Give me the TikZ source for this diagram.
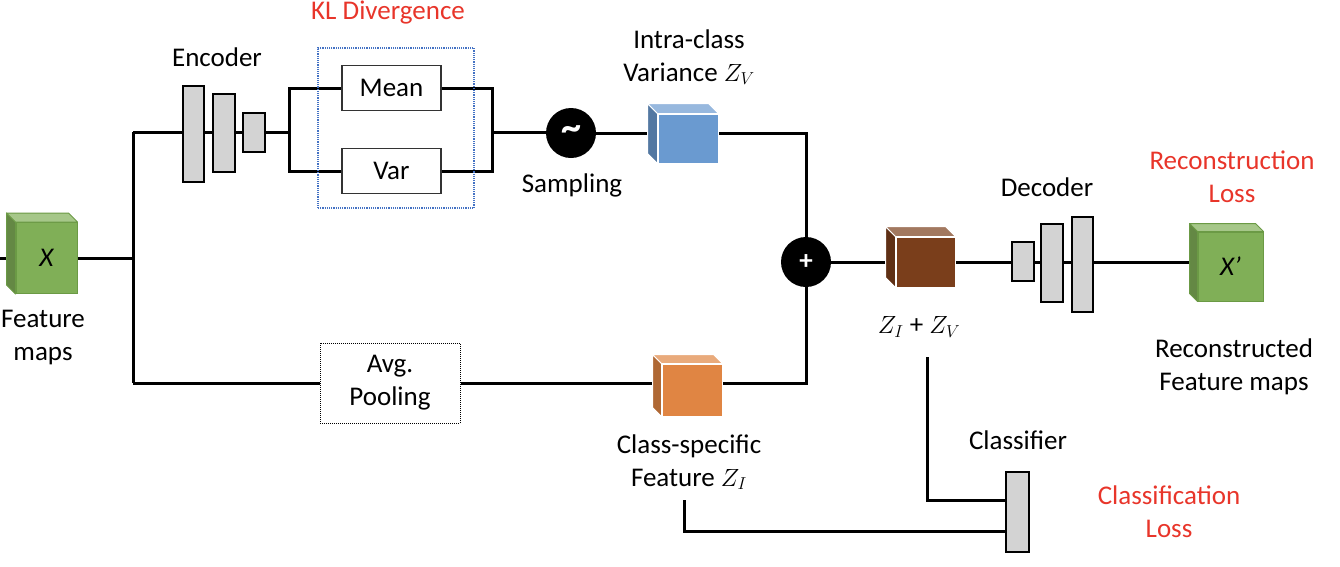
\documentclass[tikz,border=0pt]{standalone}
\usepackage{fontspec}
\setmainfont{Carlito}
\usetikzlibrary{positioning,backgrounds}
\usepackage{xcolor}

\definecolor{lossred}{HTML}{E8352A}
\definecolor{layergray}{HTML}{D3D3D3}
\definecolor{klblue}{HTML}{4472C4}
\definecolor{mapgreen}{HTML}{80AF57}
\definecolor{mapedge}{HTML}{6B9A45}
\definecolor{varblue}{HTML}{6A9AD0}
\definecolor{sumbrown}{HTML}{7A3E1B}
\definecolor{clsorange}{HTML}{E08543}

% name, position, width, height, depth, colour, edge colour, text
\newcommand{\featcube}[8]{%
  \node[cubeface, fill=#6, draw=#7, minimum width=#3, minimum height=#4] (#1) at (#2) {#8};
  \filldraw[fill=#6!78!black, draw=#7, line width=1pt, line join=round]
    (#1.south west) -- (#1.north west) -- ++(-#5,-#5) -- ([shift={(-#5,-#5)}]#1.south west) -- cycle;
  \filldraw[fill=#6!70!white, draw=#7, line width=1pt, line join=round]
    (#1.north west) -- ++(-#5,-#5) -- ([shift={(-#5,-#5)}]#1.north east) -- (#1.north east) -- cycle;
}

\begin{document}
\begin{tikzpicture}[x=1pt, y=-1pt, font=\fontsize{27}{33}\selectfont]
        \tikzstyle{layer} = [rectangle, draw, line width=2pt, fill=layergray, inner sep=0pt]
        \tikzstyle{block} = [rectangle, draw=black!80, line width=1.5pt, fill=white, minimum width=99, minimum height=45]
        \tikzstyle{op} = [circle, fill=black, minimum size=50, inner sep=0pt, text=white, font=\fontsize{27}{33}\selectfont\bfseries]
        \tikzstyle{cubeface} = [rectangle, inner sep=0pt, line width=1pt]
        \tikzstyle{link} = [line width=3pt]
        \tikzstyle{label} = [align=center, inner sep=0pt]
        \tikzstyle{loss} = [label, text=lossred]

        \useasboundingbox (0,0) rectangle (1340,566);

        % input feature maps
        \coordinate (in) at (0,258);
        \featcube{fmap}{46.5,258}{61}{71}{9}{mapgreen}{mapedge}{\itshape X}
        \node[label] (fmaplab) at (43,338) {Feature\\maps};
        \coordinate (s0) at (133,258);
        \coordinate (s1) at (133,132);
        \coordinate (s2) at (133,383);

        % encoder
        \node[layer, minimum width=21, minimum height=96] (enc1) at (193.5,134) {};
        \node[layer, minimum width=22, minimum height=78] (enc2) at (224,133) {};
        \node[layer, minimum width=22, minimum height=39] (enc3) at (254,132) {};
        \node[label] (enclab) at (217,57) {Encoder};

        % KL branch
        \coordinate (b1) at (289,132);
        \coordinate (b2) at (492,132);
        \node[block] (mean) at (391.5,88) {Mean};
        \node[block] (var) at (391.5,171) {Var};
        \node[rectangle, draw=klblue, densely dotted, line width=1.2pt, minimum width=156, minimum height=160] (kl) at (396,128) {};
        \node[loss] (kllab) at (388,13) {KL Divergence};

        % sampling
        \node[op] (samp) at (571,133) {\fontsize{40}{40}\selectfont\raisebox{-6pt}{\char`\~}};
        \node[label] (samplab) at (572,185) {Sampling};
        \featcube{zv}{688,138.5}{60}{49}{10}{varblue}{white}{}
        \node[label] (zvlab) at (689,57) {Intra-class\\Variance $Z_V$};

        % class-specific branch
        \node[rectangle, draw, densely dotted, line width=1pt, minimum width=140, minimum height=80, align=center] (avg) at (390,383) {Avg.\\Pooling};
        \featcube{zi}{692,390}{60}{52}{9}{clsorange}{white}{}
        \node[label] (zilab) at (689,462) {Class-specific\\Feature $Z_I$};

        % fusion
        \node[op] (plus) at (806,262) {+};
        \featcube{zsum}{925.5,262}{59}{50}{10}{sumbrown}{white}{}
        \node[label] (zsumlab) at (919,327) {$Z_I$ + $Z_V$};

        % decoder
        \node[layer, minimum width=22, minimum height=39] (dec1) at (1023,261) {};
        \node[layer, minimum width=22, minimum height=78] (dec2) at (1052,263) {};
        \node[layer, minimum width=21, minimum height=95] (dec3) at (1082.5,264.5) {};
        \node[label] (declab) at (1047,187) {Decoder};

        % reconstruction
        \featcube{recon}{1230.5,266.5}{65}{69}{8}{mapgreen}{mapedge}{\itshape X’}
        \node[loss] (reconloss) at (1232,177) {Reconstruction\\Loss};
        \node[label] (reconlab) at (1234,367) {Reconstructed\\Feature maps};

        % classifier
        \node[layer, minimum width=23, minimum height=80] (cls) at (1017.5,512) {};
        \node[label] (clslab) at (1018,440) {Classifier};
        \node[loss] (clsloss) at (1169,512) {Classification\\Loss};
        \coordinate (t1) at (927,357);
        \coordinate (t2) at (684,500);

        \begin{scope}[on background layer]
        \begin{scope}[link]
          \draw (in) -- (fmap);
          \draw (fmap) -- (s0);
          \draw (s1) -- (s2);
          \draw (s1) -- (b1);
          \draw (mean) -| (b1) |- (var);
          \draw (mean) -| (b2) |- (var);
          \draw (b2) -- (b2 -| samp);
          \draw (samp) -- (samp -| zv);
          \draw (samp -| zv) -| (plus);
          \draw (s2) -- (avg);
          \draw (avg) -- (avg -| zi);
          \draw (avg -| zi) -| (plus);
          \draw (plus) -- (plus -| recon.west);
          \draw (t1) |- ([yshift=12pt]cls.west);
          \draw (t2) |- ([yshift=-19pt]cls.west);
        \end{scope}
        \end{scope}
      \end{tikzpicture}
\end{document}
